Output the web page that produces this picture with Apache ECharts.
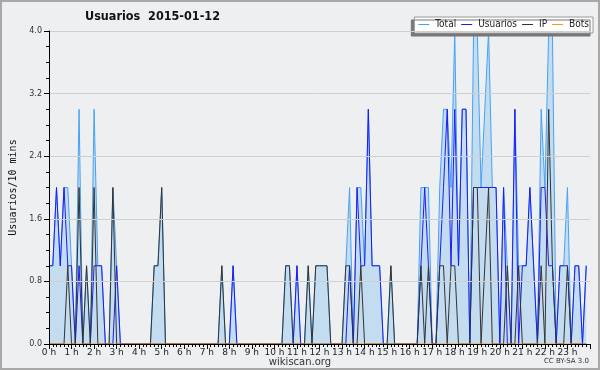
<!DOCTYPE html>
<html lang="es">
<head>
<meta charset="UTF-8">
<title>Usuarios 2015-01-12</title>
<script src="https://cdn.jsdelivr.net/npm/echarts@6/dist/echarts.min.js"></script>
<style>
    html, body { margin: 0; padding: 0; background: #fff; }
    #chart { width: 600px; height: 370px; }
</style>
</head>
<body>
<div id="chart"></div>
<script>
// one value per 10 minutes, 144 per day, rows of 4 hours
var hourLabels = ['0 h','1 h','2 h','3 h','4 h','5 h','6 h','7 h','8 h','9 h','10 h','11 h',
                  '12 h','13 h','14 h','15 h','16 h','17 h','18 h','19 h','20 h','21 h','22 h','23 h'];

var total = [
    1,1,2,1,2,2,1,0,3,0,1,0,3,1,1,0,0,2,1,0,0,0,0,0,
    0,0,0,0,1,1,2,0,0,0,0,0,0,0,0,0,0,0,0,0,0,0,1,0,
    0,1,0,0,0,0,0,0,0,0,0,0,0,0,0,1,1,0,1,0,0,1,0,1,
    1,1,1,0,0,0,0,1,2,0,2,2,1,3,1,1,1,0,0,1,0,0,0,0,
    0,0,0,2,2,2,0,0,2,3,3,2,4,1,3,3,0,4,4,2,3,4,2,2,
    0,2,1,0,3,1,1,1,2,1,0,3,2,4,4,0,1,1,2,0,1,1,0,1
];
var usuarios = [
    1,1,2,1,2,1,1,0,1,0,0,0,1,1,1,0,0,0,1,0,0,0,0,0,
    0,0,0,0,0,0,0,0,0,0,0,0,0,0,0,0,0,0,0,0,0,0,0,0,
    0,1,0,0,0,0,0,0,0,0,0,0,0,0,0,0,0,0,1,0,0,0,0,0,
    0,0,0,0,0,0,0,0,1,0,2,1,1,3,1,1,1,0,0,0,0,0,0,0,
    0,0,0,1,2,1,0,0,1,2,3,1,3,1,3,3,0,2,2,2,2,2,2,2,
    0,2,0,0,3,0,1,1,2,1,0,2,2,1,1,0,1,1,1,0,1,1,0,1
];
var ip = [
    0,0,0,0,0,1,0,0,2,0,1,0,2,0,0,0,0,2,0,0,0,0,0,0,
    0,0,0,0,1,1,2,0,0,0,0,0,0,0,0,0,0,0,0,0,0,0,1,0,
    0,0,0,0,0,0,0,0,0,0,0,0,0,0,0,1,1,0,0,0,0,1,0,1,
    1,1,1,0,0,0,0,1,1,0,0,1,0,0,0,0,0,0,0,1,0,0,0,0,
    0,0,0,1,0,1,0,0,1,1,0,1,1,0,0,0,0,2,2,0,1,2,0,0,
    0,0,1,0,0,1,0,0,0,0,0,1,0,3,1,0,0,0,1,0,0,0,0,0
];
var bots = [
    0,0,0,0,0,0,0,0,0,0,0,0,0,0,0,0,0,0,0,0,0,0,0,0,
    0,0,0,0,0,0,0,0,0,0,0,0,0,0,0,0,0,0,0,0,0,0,0,0,
    0,0,0,0,0,0,0,0,0,0,0,0,0,0,0,0,0,0,0,0,0,0,0,0,
    0,0,0,0,0,0,0,0,0,0,0,0,0,0,0,0,0,0,0,0,0,0,0,0,
    0,0,0,0,0,0,0,0,0,0,0,0,0,0,0,0,0,0,0,0,0,0,0,0,
    0,0,0,0,0,0,0,0,0,0,0,0,0,0,0,0,0,0,0,0,0,0,0,0
];

function pts(arr) {
    return arr.map(function (v, i) { return [i, v]; });
}

var chart = echarts.init(document.getElementById('chart'), null, { renderer: 'canvas' });

var font = 'DejaVu Sans';
var condensed = '"DejaVu Sans Condensed", "DejaVu Sans"';

var option = {
    animation: false,
    backgroundColor: '#eeeff1',
    title: [
        {
            text: 'Usuarios  2015-01-12',
            left: 85, top: 10, padding: 0,
            textStyle: { fontFamily: condensed, fontSize: 12.5, fontWeight: 'bold', color: '#111' }
        },
        {
            text: 'wikiscan.org',
            left: 'center', top: 357, padding: 0,
            textStyle: { fontFamily: font, fontSize: 10, fontWeight: 'normal', color: '#333' }
        },
        {
            text: 'CC BY-SA 3.0',
            right: 11, top: 358, padding: 0,
            textStyle: { fontFamily: font, fontSize: 7, fontWeight: 'normal', color: '#333' }
        }
    ],
    graphic: [
        {
            type: 'rect',
            shape: { x: 1, y: 1, width: 598, height: 368 },
            style: { fill: 'none', stroke: '#a8a8a8', lineWidth: 2 },
            silent: true
        }
    ],
    legend: {
        data: ['Total', 'Usuarios', 'IP', 'Bots'],
        right: 7, top: 17,
        icon: 'rect',
        itemWidth: 11, itemHeight: 1,
        itemGap: 5,
        padding: [2, 4, 3, 4],
        backgroundColor: '#fff',
        borderColor: '#999', borderWidth: 1,
        shadowColor: '#777', shadowBlur: 0, shadowOffsetX: -3, shadowOffsetY: 3,
        textStyle: { fontFamily: condensed, fontSize: 10, lineHeight: 11, color: '#222', padding: [0, 0, 0, 1] }
    },
    grid: { left: 46, right: 10, top: 31, bottom: 26 },
    xAxis: {
        type: 'value',
        min: 0, max: 144, interval: 6,
        z: 10,
        axisLine: { show: true, lineStyle: { color: '#000', width: 1 } },
        axisTick: { show: true, length: 5, lineStyle: { color: '#000' } },
        minorTick: { show: true, splitNumber: 6, length: 3, lineStyle: { color: '#000' } },
        axisLabel: {
            fontFamily: font, fontSize: 9, color: '#222', margin: 4,
            showMaxLabel: false,
            formatter: function (v) { return hourLabels[v / 6] || ''; }
        },
        splitLine: { show: false }
    },
    yAxis: {
        type: 'value',
        min: 0, max: 4, interval: 0.8,
        z: 10,
        name: 'Usuarios/10 mins',
        nameLocation: 'middle',
        nameGap: 31,
        nameTextStyle: { fontFamily: 'DejaVu Sans Mono', fontSize: 10, color: '#111' },
        axisLine: { show: true, lineStyle: { color: '#000', width: 1 } },
        axisTick: { show: true, length: 5, lineStyle: { color: '#000' } },
        minorTick: { show: true, splitNumber: 4, length: 3, lineStyle: { color: '#000' } },
        axisLabel: {
            fontFamily: font, fontSize: 8, color: '#333', margin: 7,
            formatter: function (v) { return v.toFixed(1); }
        },
        splitLine: { show: true, lineStyle: { color: '#cfcfcf', width: 1 } }
    },
    series: [
        {
            name: 'Total', type: 'line', data: pts(total),
            showSymbol: false, symbol: 'none',
            lineStyle: { color: '#44a2f5', width: 1 },
            itemStyle: { color: '#44a2f5' },
            areaStyle: { color: '#c4dcf0', opacity: 1 }
        },
        {
            name: 'Usuarios', type: 'line', data: pts(usuarios),
            showSymbol: false, symbol: 'none',
            lineStyle: { color: '#1c1cf5', width: 1 },
            itemStyle: { color: '#1c1cf5' }
        },
        {
            name: 'IP', type: 'line', data: pts(ip),
            showSymbol: false, symbol: 'none',
            lineStyle: { color: '#333', width: 1 },
            itemStyle: { color: '#333' }
        },
        {
            name: 'Bots', type: 'line', data: pts(bots),
            showSymbol: false, symbol: 'none',
            lineStyle: { color: '#ff9a00', width: 1 },
            itemStyle: { color: '#ff9a00' }
        }
    ]
};

chart.setOption(option);
</script>
</body>
</html>
